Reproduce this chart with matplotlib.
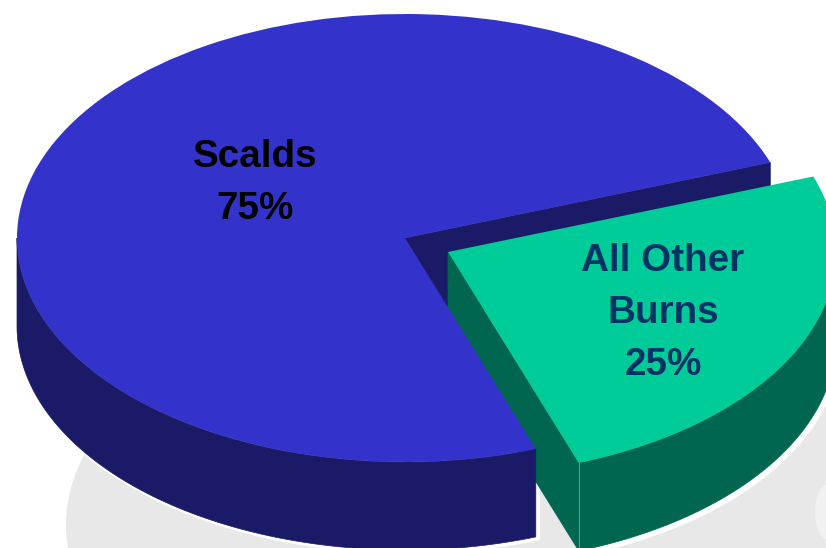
#!/usr/bin/env python3
"""Exploded 3D-style pie of burn types, saved as out.png."""

import matplotlib

matplotlib.use("Agg")
import matplotlib.pyplot as plt
import numpy as np
from matplotlib.patches import Ellipse, Polygon, Wedge
from matplotlib.transforms import Affine2D

WIDTH, HEIGHT = 826, 548

labels = ["Scalds\n75%", "All Other\nBurns\n25%"]
shares = [75, 25]
top_colors = ["#3333CC", "#00CC99"]
side_colors = ["#1A1A66", "#006650"]
text_colors = ["#000000", "#003366"]

START_ANGLE = 19.7
RX, RY = 388, 224
DEPTH = 88
CENTER = (405, HEIGHT - 238)
OFFSETS = [(0, 0), (43, -14)]
HALO_SHIFTS = [(2, -1.5), (3, -3)]
LABEL_POS = [(255, 183), (663, 313)]


def arc(a0, a1, n=200):
    t = np.radians(np.linspace(a0, a1, n))
    return np.column_stack([RX * np.cos(t), RY * np.sin(t)])


def slice_angles():
    edges = START_ANGLE + np.cumsum([0] + shares) * 3.6
    return list(zip(edges[:-1], edges[1:]))


def rim_points(a0, a1, shift):
    """Outer wall of a slice: only the part facing the viewer."""
    rim = arc(max(a0, 180), min(a1, 360))
    return np.vstack([rim, (rim + [0, -DEPTH])[::-1]]) + shift


def draw_cut_face(ax, angle, shift, color, z):
    edge = arc(angle, angle, 1)[0]
    down = np.array([0, -DEPTH])
    face = np.array([[0, 0], edge, edge + down, down]) + shift
    ax.add_patch(Polygon(face, closed=True, fc=color, ec=color, lw=0.5, zorder=z))


def draw_top(ax, a0, a1, shift, color, z):
    to_px = Affine2D().scale(RX, RY).translate(*shift) + ax.transData
    ax.add_patch(Wedge((0, 0), 1, a0, a1, fc=color, ec="none", transform=to_px, zorder=z))


def main():
    fig = plt.figure(figsize=(WIDTH / 100, HEIGHT / 100), dpi=100)
    ax = fig.add_axes([0, 0, 1, 1])
    ax.set_xlim(0, WIDTH)
    ax.set_ylim(0, HEIGHT)
    ax.axis("off")

    # Pale shape sitting behind the pie, with a lighter patch at the right edge.
    ax.add_patch(Ellipse((500, HEIGHT - 525), 868, 490, fc="#E8E8E8", ec="none", zorder=0))
    ax.add_patch(Ellipse((829, HEIGHT - 512), 28, 56, fc="#F1F1F1", ec="none", zorder=0.5))

    angles = slice_angles()
    shifts = [np.array(CENTER) + off for off in OFFSETS]

    # White outline peeking out from under the walls.
    for (a0, a1), shift, halo in zip(angles, shifts, HALO_SHIFTS):
        ax.add_patch(Polygon(rim_points(a0, a1, shift + halo), closed=True,
                             fc="white", ec="white", lw=3, zorder=1))

    # Back to front: scalds cut face, the pulled-out slice, then the scalds body.
    draw_cut_face(ax, angles[0][0], shifts[0], side_colors[0], 2)

    draw_cut_face(ax, angles[1][0], shifts[1], side_colors[1], 3)
    ax.add_patch(Polygon(rim_points(*angles[1], shifts[1]), closed=True,
                         fc=side_colors[1], ec=side_colors[1], lw=0.5, zorder=3))
    seam = arc(angles[1][0], angles[1][0], 1)[0] + shifts[1]
    ax.plot([seam[0], seam[0]], [seam[1], seam[1] - DEPTH], color="#5FA090", lw=0.7, zorder=3.5)
    draw_top(ax, *angles[1], shifts[1], top_colors[1], 4)

    ax.add_patch(Polygon(rim_points(*angles[0], shifts[0]), closed=True,
                         fc=side_colors[0], ec=side_colors[0], lw=0.5, zorder=5))
    draw_top(ax, *angles[0], shifts[0], top_colors[0], 6)

    for label, (x, y), color in zip(labels, LABEL_POS, text_colors):
        ax.text(x, HEIGHT - y, label, ha="center", va="center", color=color,
                fontsize=27.8, fontweight="bold", family="Liberation Sans",
                linespacing=1.57, zorder=10)

    fig.savefig("out.png", dpi=100)
    plt.close(fig)


if __name__ == "__main__":
    main()
